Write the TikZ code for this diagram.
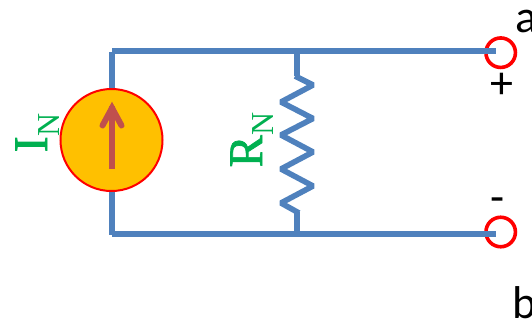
\documentclass[tikz,border=0pt]{standalone}
\usepackage{fontspec}
\setmainfont{Carlito}
\newfontfamily\serifgreen{Liberation Serif}
\newfontfamily\serifheavy[FakeBold=1.5]{Liberation Serif}
\definecolor{wireblue}{RGB}{79,129,189}
\definecolor{srcfill}{RGB}{255,192,0}
\definecolor{arrowred}{RGB}{192,80,77}
\definecolor{labelgreen}{RGB}{0,176,80}
\tikzset{
  wire/.style={draw=wireblue,line width=6.4pt},
  coil/.style={draw=wireblue,line width=5.6pt,line join=bevel},
  terminal/.style={circle,draw=red,line width=3.6pt,fill=white,minimum size=29.5pt,inner sep=0pt},
  source/.style={circle,draw=red,line width=2pt,fill=srcfill,minimum size=102pt,inner sep=0pt},
  greenlabel/.style={rotate=90,anchor=base west,inner sep=0pt,text=labelgreen,font=\serifheavy\fontsize{48}{48}\selectfont},
  blacklabel/.style={inner sep=0pt,text=black,anchor=base,font=\fontsize{46}{46}\selectfont},
}
\newcommand{\subN}[1]{\raisebox{#1}{\serifgreen\fontsize{32}{32}\selectfont N}}
\begin{document}
\begin{tikzpicture}[x=1pt,y=-1pt]
\useasboundingbox (0,0) rectangle (532,322);
% nodes
\node[terminal] (ta) at (500.7,52.7) {};
\node[terminal] (tb) at (500.7,232) {};
\node[source] (src) at (111.5,140) {};
\coordinate (tl) at (112,51);
\coordinate (bl) at (112,234);
\coordinate (tr) at (495.7,51);
\coordinate (br) at (495.7,234);
\coordinate (rt) at (297,51);
\coordinate (rb) at (297,234);
\coordinate (tl2) at (112,52);
\coordinate (bl2) at (112,235);
% wires
\draw[wire] (tl) -- (tr);
\draw[wire] (bl) -- (br);
\draw[wire] (tl2) -- (src.north -| tl2);
\draw[wire] (src.south -| bl2) -- (bl2);
% resistor
\draw[wire] (rt) -- (297,76);
\draw[wire] (297,212) -- (rb);
\draw[coil] (295,76) -- (313,85) -- (281,102) -- (313,118.5) -- (281,135) -- (313,152) -- (281,169) -- (313,186) -- (281,203) -- (299,213);
% source arrow
\coordinate (as) at (112,169);
\coordinate (ae) at (112,106);
\draw[draw=arrowred,line width=6pt] (as) -- (ae);
\draw[draw=arrowred,line width=6pt,line cap=round,line join=miter] (102.5,125.5) -- (112,108) -- (121.5,125.5);
% labels
\node[greenlabel] (iN) at (47,152.5) {I\subN{-12pt}};
\node[greenlabel] (rN) at (262,167.5) {R\subN{-11pt}};
\node[blacklabel,anchor=base west] (la) at (515,32) {a};
\node[blacklabel,anchor=base west] (lb) at (512,318) {b};
\node[blacklabel] (lp) at (502,98) {+};
\node[blacklabel] (lm) at (498,212) {-};
\end{tikzpicture}
\end{document}
